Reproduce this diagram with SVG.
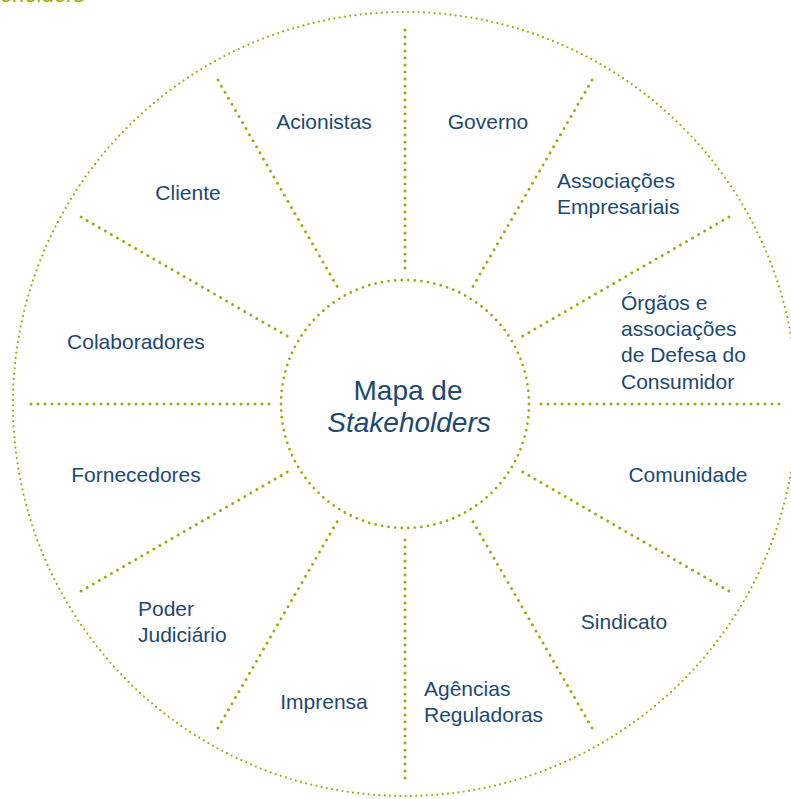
<svg xmlns="http://www.w3.org/2000/svg" width="791" height="799" viewBox="0 0 791 799">
  <style>
    .ring-outer { fill: none; stroke: #a2a80c; stroke-width: 2.2; stroke-linecap: round; stroke-dasharray: 0 5.3; }
    .ring-inner { fill: none; stroke: #a2a80c; stroke-width: 2.8; stroke-linecap: round; stroke-dasharray: 0 6.6; }
    .spoke { fill: none; stroke: #a2a80c; stroke-width: 3; stroke-linecap: round; stroke-dasharray: 0 7; }
    .label { font-family: "Liberation Sans", Arial, sans-serif; font-size: 21px; fill: #1d4970; }
    .title { font-family: "Liberation Sans", Arial, sans-serif; font-size: 28px; fill: #1d4970; text-anchor: middle; }
    .heading { font-family: "Liberation Sans", Arial, sans-serif; font-size: 22px; fill: #a2a80c; }
  </style>

  <rect width="791" height="799" fill="#ffffff"/>

  <!-- heading running off the top edge -->
  <text class="heading" x="85" y="2" text-anchor="end" font-style="italic">Stakeholders</text>

  <!-- rings -->
  <circle id="outer-ring" class="ring-outer" cx="405" cy="404" r="392"/>

  <g id="connectors">
    <line class="spoke" x1="779" y1="404" x2="535" y2="404"/>
    <line class="spoke" x1="728.9" y1="591" x2="517.6" y2="469"/>
    <line class="spoke" x1="592" y1="727.9" x2="470" y2="516.6"/>
    <line class="spoke" x1="405" y1="778" x2="405" y2="534"/>
    <line class="spoke" x1="218" y1="727.9" x2="340" y2="516.6"/>
    <line class="spoke" x1="81.1" y1="591" x2="292.4" y2="469"/>
    <line class="spoke" x1="31" y1="404" x2="275" y2="404"/>
    <line class="spoke" x1="81.1" y1="217" x2="292.4" y2="339"/>
    <line class="spoke" x1="218" y1="80.1" x2="340" y2="291.4"/>
    <line class="spoke" x1="405" y1="30" x2="405" y2="274"/>
    <line class="spoke" x1="592" y1="80.1" x2="470" y2="291.4"/>
    <line class="spoke" x1="728.9" y1="217" x2="517.6" y2="339"/>
  </g>

  <g id="center">
    <circle class="ring-inner" cx="405" cy="404" r="124"/>
    <text class="title" x="408" y="400">Mapa de</text>
    <text class="title" x="409" y="432" font-style="italic">Stakeholders</text>
  </g>

  <g id="acionistas"><text class="label" x="324" y="129" text-anchor="middle">Acionistas</text></g>
  <g id="governo"><text class="label" x="488" y="129" text-anchor="middle">Governo</text></g>
  <g id="associacoes-empresariais">
    <text class="label" x="557" y="188">Associações</text>
    <text class="label" x="557" y="214">Empresariais</text>
  </g>
  <g id="orgaos-defesa-consumidor">
    <text class="label" x="621" y="310">Órgãos e</text>
    <text class="label" x="621" y="336">associações</text>
    <text class="label" x="621" y="362">de Defesa do</text>
    <text class="label" x="621" y="389">Consumidor</text>
  </g>
  <g id="comunidade"><text class="label" x="688" y="482" text-anchor="middle">Comunidade</text></g>
  <g id="sindicato"><text class="label" x="624" y="629" text-anchor="middle">Sindicato</text></g>
  <g id="agencias-reguladoras">
    <text class="label" x="424" y="696">Agências</text>
    <text class="label" x="424" y="722">Reguladoras</text>
  </g>
  <g id="imprensa"><text class="label" x="324" y="709" text-anchor="middle">Imprensa</text></g>
  <g id="poder-judiciario">
    <text class="label" x="138" y="616">Poder</text>
    <text class="label" x="138" y="642">Judiciário</text>
  </g>
  <g id="fornecedores"><text class="label" x="136" y="482" text-anchor="middle">Fornecedores</text></g>
  <g id="colaboradores"><text class="label" x="136" y="349" text-anchor="middle">Colaboradores</text></g>
  <g id="cliente"><text class="label" x="188" y="200" text-anchor="middle">Cliente</text></g>
</svg>
